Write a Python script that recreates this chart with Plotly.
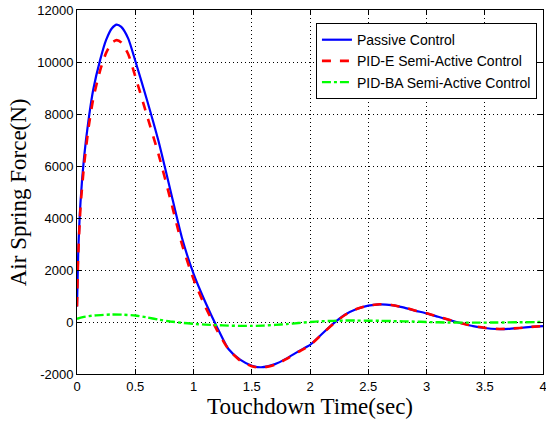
import plotly.graph_objects as go

# Passive control
t_passive = [0, 0.01, 0.03, 0.06, 0.1, 0.14, 0.2, 0.25, 0.3, 0.34, 0.38, 0.44, 0.5,
             0.6, 0.7, 0.8, 0.9, 1.0, 1.1, 1.2, 1.3, 1.4, 1.5, 1.58, 1.7, 1.8, 1.9,
             2.0, 2.1, 2.2, 2.3, 2.4, 2.5, 2.6, 2.7, 2.8, 2.9, 3.0, 3.1, 3.2, 3.3,
             3.4, 3.5, 3.6, 3.7, 3.8, 3.9, 4.0]
f_passive = [600, 2600, 4600, 6300, 7800, 8950, 10100, 10850, 11300, 11440, 11350, 10900, 10050,
             8550, 6950, 5100, 3250, 1860, 780, -180, -1040, -1450, -1680, -1740, -1620, -1400, -1130,
             -880, -470, -60, 280, 500, 630, 680, 650, 560, 440, 330, 200, 70, -50,
             -160, -230, -270, -265, -230, -190, -160]

# PID-E semi-active control
t_pide = [0, 0.01, 0.03, 0.06, 0.1, 0.14, 0.2, 0.25, 0.3, 0.34, 0.38, 0.44, 0.5,
          0.6, 0.7, 0.8, 0.9, 1.0, 1.1, 1.2, 1.3, 1.4, 1.5, 1.58, 1.7, 1.8, 1.9,
          2.0, 2.1, 2.2, 2.3, 2.4, 2.5, 2.6, 2.7, 2.8, 2.9, 3.0, 3.1, 3.2, 3.3,
          3.4, 3.5, 3.6, 3.7, 3.8, 3.9, 4.0]
f_pide = [600, 2500, 4400, 6000, 7500, 8600, 9700, 10350, 10750, 10840, 10750, 10300, 9450,
          7950, 6450, 4750, 3000, 1650, 600, -300, -1050, -1480, -1700, -1760, -1640, -1420, -1150,
          -890, -480, -70, 270, 500, 630, 680, 655, 565, 445, 335, 205, 75, -45,
          -155, -225, -265, -262, -228, -188, -158]

# PID-BA semi-active control
t_pidba = [0, 0.05, 0.15, 0.3, 0.4, 0.5, 0.6, 0.7, 0.8, 0.9, 1.0, 1.1, 1.2, 1.3, 1.4,
           1.5, 1.6, 1.7, 1.8, 1.9, 2.0, 2.1, 2.2, 2.3, 2.4, 2.5, 2.6, 2.7, 2.8, 2.9,
           3.0, 3.2, 3.4, 3.6, 3.8, 4.0]
f_pidba = [120, 190, 250, 290, 280, 250, 180, 90, 20, -30, -70, -100, -120, -140, -150,
           -150, -140, -110, -80, -40, 0, 30, 45, 55, 55, 50, 45, 35, 25, 15,
           0, -20, -25, -20, -10, 0]

x_ticks = [0, 0.5, 1, 1.5, 2, 2.5, 3, 3.5, 4]
x_labels = ["0", "0.5", "1", "1.5", "2", "2.5", "3", "3.5", "4"]
y_ticks = [-2000, 0, 2000, 4000, 6000, 8000, 10000, 12000]
y_labels = ["-2000", "0", "2000", "4000", "6000", "8000", "10000", "12000"]

fig = go.Figure()
fig.add_trace(go.Scatter(x=t_passive, y=f_passive, mode="lines", name="Passive Control",
                         line=dict(color="#0000ff", width=2.2, shape="spline", smoothing=0.6)))
fig.add_trace(go.Scatter(x=t_pide, y=f_pide, mode="lines", name="PID-E Semi-Active Control",
                         line=dict(color="#ff0000", width=2.6, dash="dash", shape="spline", smoothing=0.6)))
fig.add_trace(go.Scatter(x=t_pidba, y=f_pidba, mode="lines", name="PID-BA Semi-Active Control",
                         line=dict(color="#00ff00", width=2.4, dash="dashdot", shape="spline", smoothing=0.6)))

axis_common = dict(
    showline=True, linecolor="black", linewidth=1, mirror="ticks",
    ticks="inside", ticklen=5, tickcolor="black",
    showgrid=True, gridcolor="black", gridwidth=1, griddash="1px,3px",
    zeroline=False, automargin=False, ticklabeloverflow="allow",
    tickfont=dict(family="Liberation Sans, Arial", size=13, color="black"),
)

title_font = dict(family="Liberation Serif, Times New Roman", size=23, color="black")

fig.update_layout(
    width=546, height=425,
    margin=dict(l=77, r=3, t=10, b=51),
    paper_bgcolor="white", plot_bgcolor="white",
    xaxis=dict(range=[0, 4], tickvals=x_ticks, ticktext=x_labels, **axis_common),
    yaxis=dict(range=[-2000, 12000], tickvals=y_ticks, ticktext=y_labels, **axis_common),
    legend=dict(x=0.987, y=0.964, xanchor="right", yanchor="top",
                bgcolor="white", bordercolor="black", borderwidth=1,
                font=dict(family="Liberation Sans, Arial", size=14, color="black"),
                tracegroupgap=0),
    showlegend=True,
    annotations=[
        dict(text="Touchdown Time(sec)", xref="paper", yref="paper", x=0.5, y=-0.09,
             xanchor="center", yanchor="middle", showarrow=False, font=title_font),
        dict(text="Air Spring Force(N)", xref="paper", yref="paper", x=-0.126, y=0.5,
             xanchor="center", yanchor="middle", textangle=-90, showarrow=False, font=title_font),
    ],
)

fig.write_html("out.html", config={"displayModeBar": False},
               post_script="document.body.style.margin='0px';")
